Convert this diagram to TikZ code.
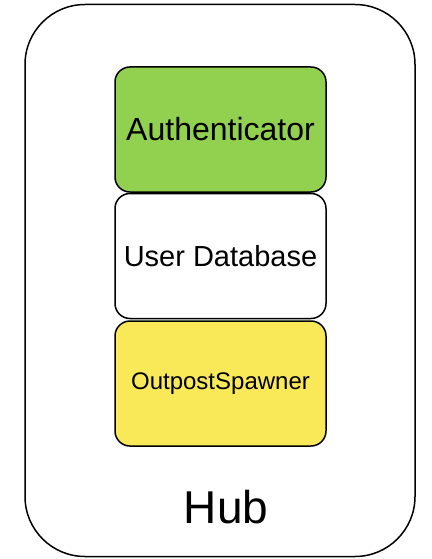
\documentclass[tikz,border=0pt]{standalone}
\usepackage{fontspec}
\setmainfont{Liberation Sans}
\usetikzlibrary{positioning}
\definecolor{authgreen}{HTML}{92D050}
\definecolor{spawnyellow}{HTML}{F9E858}

\begin{document}
\begin{tikzpicture}[x=1pt, y=-1pt,
    part/.style={draw, line width=1.5pt, rounded corners=15pt, minimum width=211pt, minimum height=125pt, inner sep=0pt}]
    \useasboundingbox (0, 0) rectangle (431, 559);

    \node[draw, line width=1.5pt, rounded corners=60pt, minimum width=390pt, minimum height=552pt] (hub) at (220, 280.5) {};

    \node[part, fill=authgreen, font=\fontsize{32}{38}\selectfont] (auth) at (220.5, 129.5) {Authenticator};
    \node[part, fill=white, font=\fontsize{29}{35}\selectfont, below=0pt of auth] (userdb) {User Database};
    \node[part, fill=spawnyellow, font=\fontsize{24}{29}\selectfont, below=1pt of userdb] (spawner) {OutpostSpawner};

    \node[font=\fontsize{46}{55}\selectfont] (hublabel) at (226, 507) {Hub};
\end{tikzpicture}
\end{document}
